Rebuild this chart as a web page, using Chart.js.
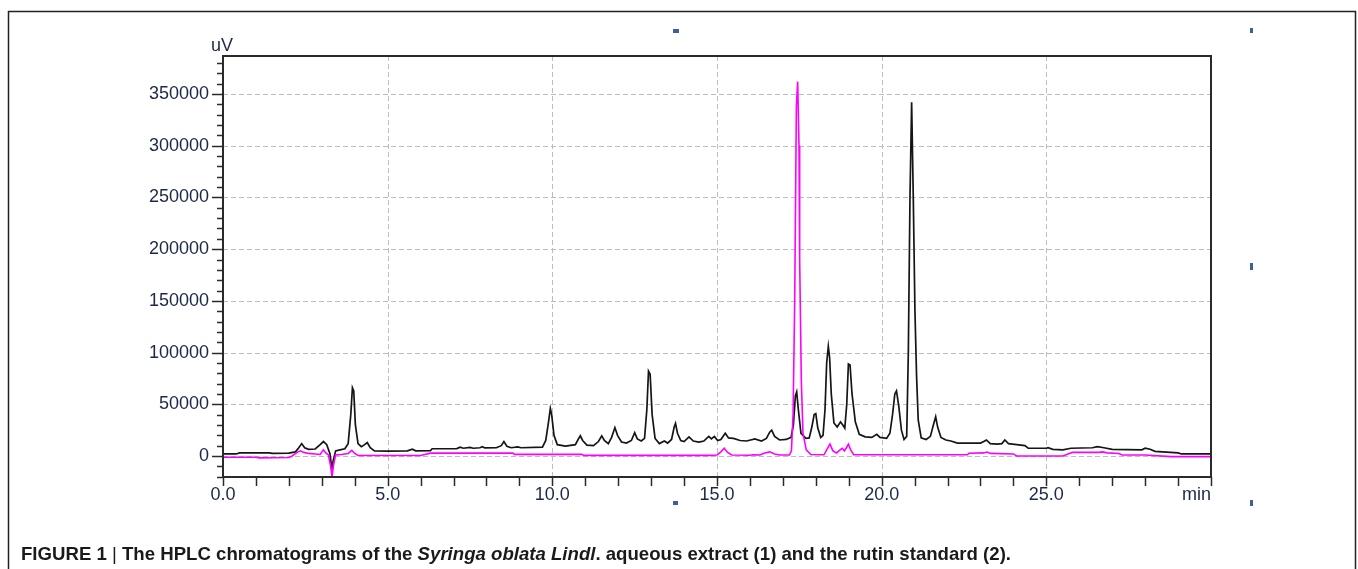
<!DOCTYPE html>
<html>
<head>
<meta charset="utf-8">
<script src="https://cdn.jsdelivr.net/npm/chart.js@4.4.1/dist/chart.umd.min.js"></script>
<style>
  html, body { margin: 0; padding: 0; background: #ffffff; }
  #wrap { width: 1358px; height: 569px; position: relative; }
  canvas { display: block; }
</style>
</head>
<body>
<div id="wrap"><canvas id="c" width="1358" height="569"></canvas></div>
<script>
// ---------- data ----------
const extractTime = [
  0.00,0.40,0.50,1.40,1.50,2.00,2.20,2.30,2.39,2.48,2.60,2.80,2.95,3.05,3.15,3.25,3.30,3.35,3.42,3.55,
  3.70,3.80,3.88,3.93,3.97,4.02,4.10,4.20,4.30,4.38,4.47,4.60,5.00,5.60,5.75,5.85,6.30,6.35,7.10,7.20,
  7.30,7.50,7.60,7.80,7.88,7.95,8.30,8.45,8.53,8.62,8.75,8.95,9.05,9.70,9.80,9.88,9.94,9.98,10.05,10.15,
  10.40,10.70,10.80,10.85,10.92,11.05,11.25,11.40,11.50,11.58,11.70,11.80,11.90,11.98,12.10,12.25,12.40,12.50,12.58,12.70,
  12.80,12.87,12.92,12.97,13.03,13.12,13.25,13.40,13.50,13.62,13.70,13.74,13.80,13.90,14.00,14.15,14.28,14.45,14.60,14.75,
  14.83,14.92,15.02,15.12,15.25,15.35,15.50,15.70,15.90,16.15,16.35,16.50,16.60,16.66,16.75,16.90,17.10,17.25,17.32,17.38,
  17.42,17.47,17.55,17.70,17.80,17.88,17.95,18.00,18.06,18.15,18.22,18.28,18.33,18.38,18.42,18.47,18.55,18.65,18.75,18.82,
  18.88,18.94,18.99,19.04,19.10,19.20,19.32,19.50,19.70,19.85,19.95,20.15,20.25,20.33,20.40,20.45,20.52,20.60,20.68,20.76,
  20.81,20.86,20.91,20.96,21.01,21.06,21.11,21.20,21.35,21.48,21.57,21.64,21.70,21.80,21.95,22.10,22.30,22.70,23.00,23.10,
  23.18,23.30,23.50,23.65,23.74,23.85,24.10,24.35,24.45,25.00,25.05,25.20,25.50,25.75,26.40,26.55,26.75,27.00,27.90,28.00,
  28.15,28.30,29.00,29.10,30.00
];
const extractUV = [
  2000,2000,3000,3000,2500,2800,4000,8000,12000,8000,6500,6800,11000,14000,11000,2000,-12000,-4000,5000,6000,
  7000,12000,40000,66000,63000,30000,12000,9000,11000,13000,8000,5000,4800,5000,6500,5000,5200,7000,7200,8500,
  7500,8300,7500,8000,9000,7800,8000,10000,14000,9500,8000,8800,8000,8500,15000,32000,46000,40000,20000,11000,
  9500,11000,17000,19500,15000,10500,10000,14000,19500,15000,12000,18000,27500,20000,13500,12500,15000,22500,16500,14500,
  17000,45000,82000,79000,40000,17000,12000,14500,12500,16000,28000,31500,22000,15000,14000,18500,14500,13500,14500,19000,
  16500,19000,15000,16000,22000,17500,17000,15000,14500,16500,14500,17000,23000,25000,19000,15500,16000,18000,30000,58000,
  62000,45000,22000,17000,17500,28000,40000,41000,27000,18000,20000,45000,90000,106000,95000,60000,32000,28000,33000,30000,
  27000,50000,89000,88000,60000,33000,21000,18500,18000,21000,18000,17000,22000,40000,60000,63000,48000,25000,16000,19000,
  100000,250000,342000,250000,141000,77000,35000,17500,16000,19000,30000,38000,28000,18000,15500,14500,12500,12500,12500,14000,
  15500,12000,11500,12000,15500,12000,11000,10000,7500,7500,8000,6500,6000,7500,8000,9000,8000,6500,6000,7500,
  6500,4500,3000,2000,2000
];
const rutinTime = [
  0.00,1.00,1.10,2.00,2.10,2.25,2.35,2.45,2.60,2.80,2.95,3.05,3.12,3.20,3.27,3.31,3.36,3.42,3.60,3.80,
  3.91,3.98,4.10,6.00,6.30,8.80,8.85,10.90,10.95,14.80,15.00,15.12,15.22,15.32,15.45,16.00,16.10,16.30,16.45,16.60,
  16.75,16.90,17.20,17.26,17.31,17.36,17.41,17.45,17.49,17.51,17.56,17.61,17.71,17.85,18.25,18.33,18.43,18.52,18.63,18.72,
  18.80,18.87,18.93,18.99,19.06,19.15,22.60,22.65,23.10,23.20,23.30,24.00,24.10,25.50,25.70,25.80,26.60,26.70,26.85,27.20,
  27.30,28.00,28.80,30.00
];
const rutinUV = [
  -1200,-1200,-1800,-1500,0,3500,5000,3500,2500,2000,1500,6000,3000,1000,-10000,-20000,-8000,1000,1500,2500,
  5500,3000,500,500,2800,2800,1600,1600,600,600,1000,4000,7500,3500,1000,800,1200,1000,3000,4000,
  2000,1000,1000,5000,40000,151000,338000,362000,300000,190000,73500,22000,6000,1500,1200,6000,11500,5000,3000,5500,
  7500,5000,8000,11500,6000,1200,1200,2600,3000,3800,2500,2000,0,0,2500,3500,3500,4000,3000,2500,
  1000,1000,-600,-600
];
const xTickValues = [0, 5, 10, 15, 20, 25];
const xTickLabels = ['0.0', '5.0', '10.0', '15.0', '20.0', '25.0'];
const yTickValues = [0, 50000, 100000, 150000, 200000, 250000, 300000, 350000];
const yTickLabels = ['0', '50000', '100000', '150000', '200000', '250000', '300000', '350000'];
const xMinorStep = 1;
const yMinorStep = 10000;
const yLabelUnit = 'uV';
const xLabelUnit = 'min';
const captionParts = [
  { text: 'FIGURE 1 ', style: 'bold' },
  { text: '|', style: 'normal' },
  { text: ' The HPLC chromatograms of the ', style: 'bold' },
  { text: 'Syringa oblata Lindl', style: 'italic bold' },
  { text: '. aqueous extract (1) and the rutin standard (2).', style: 'bold' }
];

const FONT = "'Liberation Sans', Arial, sans-serif";
const TXT = '#1b2846';
const AXIS = '#2a2a2a';

const extractPts = extractTime.map((t, i) => ({ x: t, y: extractUV[i] }));
const rutinPts = rutinTime.map((t, i) => ({ x: t, y: rutinUV[i] }));

const decor = {
  id: 'decor',
  beforeDatasetsDraw(chart) {
    const { ctx, chartArea: a, scales: { x, y } } = chart;
    ctx.save();
    ctx.strokeStyle = '#bdbdbd';
    ctx.lineWidth = 1;
    ctx.setLineDash([5, 3]);
    yTickValues.forEach(v => {
      const py = Math.round(y.getPixelForValue(v)) + 0.5;
      ctx.beginPath(); ctx.moveTo(a.left, py); ctx.lineTo(a.right, py); ctx.stroke();
    });
    xTickValues.forEach(v => {
      if (v === 0) return;
      const px = Math.round(x.getPixelForValue(v)) + 0.5;
      ctx.beginPath(); ctx.moveTo(px, a.top); ctx.lineTo(px, a.bottom); ctx.stroke();
    });
    ctx.restore();
  },
  afterDraw(chart) {
    const { ctx, chartArea: a, scales: { x, y } } = chart;
    ctx.save();
    // plot frame
    ctx.strokeStyle = AXIS;
    ctx.lineWidth = 2;
    ctx.strokeRect(a.left, a.top, a.right - a.left, a.bottom - a.top);
    // y ticks
    ctx.lineWidth = 1.5;
    for (let v = Math.ceil(y.min / yMinorStep) * yMinorStep; v <= y.max; v += yMinorStep) {
      const py = Math.round(y.getPixelForValue(v)) + 0.5;
      const len = (v % 50000 === 0) ? 11 : 6;
      ctx.beginPath(); ctx.moveTo(a.left - len, py); ctx.lineTo(a.left, py); ctx.stroke();
    }
    // x ticks
    for (let t = 0; t <= x.max + 1e-9; t += xMinorStep) {
      const px = Math.round(x.getPixelForValue(t)) + 0.5;
      ctx.beginPath(); ctx.moveTo(px, a.bottom); ctx.lineTo(px, a.bottom + 9); ctx.stroke();
    }
    // unit labels
    ctx.fillStyle = TXT;
    ctx.font = '18px ' + FONT;
    ctx.textBaseline = 'middle';
    ctx.textAlign = 'center';
    ctx.fillText(yLabelUnit, a.left - 1, a.top - 10);
    ctx.textAlign = 'right';
    ctx.fillText(xLabelUnit, a.right, a.bottom + 18);
    // outer frame
    ctx.strokeStyle = '#222';
    ctx.lineWidth = 1.5;
    ctx.beginPath();
    ctx.moveTo(8.5, 600); ctx.lineTo(8.5, 11.5); ctx.lineTo(1355.5, 11.5); ctx.lineTo(1355.5, 600);
    ctx.stroke();
    // small blue handle marks
    ctx.fillStyle = '#3e5f9e';
    ctx.fillRect(673, 29, 6, 4);
    ctx.fillRect(1250, 28, 3, 5);
    ctx.fillRect(1250, 263, 3, 7);
    ctx.fillRect(673, 501, 5, 4);
    ctx.fillRect(1250, 500, 3, 6);
    // caption
    ctx.fillStyle = '#1a1a1a';
    ctx.textAlign = 'left';
    ctx.textBaseline = 'alphabetic';
    const size = 18.5;
    let total = 0;
    const widths = captionParts.map(p => {
      ctx.font = p.style + ' ' + size + 'px ' + FONT;
      const w = ctx.measureText(p.text).width;
      total += w;
      return w;
    });
    const sx = 990 / total;
    ctx.translate(21, 560);
    ctx.scale(sx, 1);
    let cx = 0;
    captionParts.forEach((p, i) => {
      ctx.font = p.style + ' ' + size + 'px ' + FONT;
      ctx.fillText(p.text, cx, 0);
      cx += widths[i];
    });
    ctx.restore();
  }
};

new Chart(document.getElementById('c'), {
  type: 'scatter',
  data: {
    datasets: [
      { label: 'Rutin standard (2)', data: rutinPts, showLine: true, borderColor: '#ff00ff', borderWidth: 1.6, pointRadius: 0, tension: 0 },
      { label: 'Aqueous extract (1)', data: extractPts, showLine: true, borderColor: '#151515', borderWidth: 1.7, pointRadius: 0, tension: 0 }
    ]
  },
  options: {
    responsive: false,
    animation: false,
    devicePixelRatio: 1,
    layout: { padding: { left: 0, top: 56, right: 147, bottom: 0 } },
    plugins: { legend: { display: false }, tooltip: { enabled: false } },
    scales: {
      x: {
        type: 'linear', min: 0, max: 30,
        afterFit: s => { s.height = 92; },
        afterBuildTicks: s => { s.ticks = xTickValues.map(v => ({ value: v })); },
        ticks: {
          padding: 7, color: TXT, font: { family: FONT, size: 18 },
          maxRotation: 0, autoSkip: false,
          callback: (v) => { const i = xTickValues.indexOf(v); return i >= 0 ? xTickLabels[i] : ''; }
        },
        grid: { display: false, drawTicks: false },
        border: { display: false }
      },
      y: {
        type: 'linear', min: -20300, max: 386800,
        afterFit: s => { s.width = 223; },
        afterBuildTicks: s => { s.ticks = yTickValues.map(v => ({ value: v })); },
        ticks: {
          padding: 14, color: TXT, font: { family: FONT, size: 18 },
          autoSkip: false,
          callback: (v) => { const i = yTickValues.indexOf(v); return i >= 0 ? yTickLabels[i] : ''; }
        },
        grid: { display: false, drawTicks: false },
        border: { display: false }
      }
    }
  },
  plugins: [decor]
});
</script>
</body>
</html>
